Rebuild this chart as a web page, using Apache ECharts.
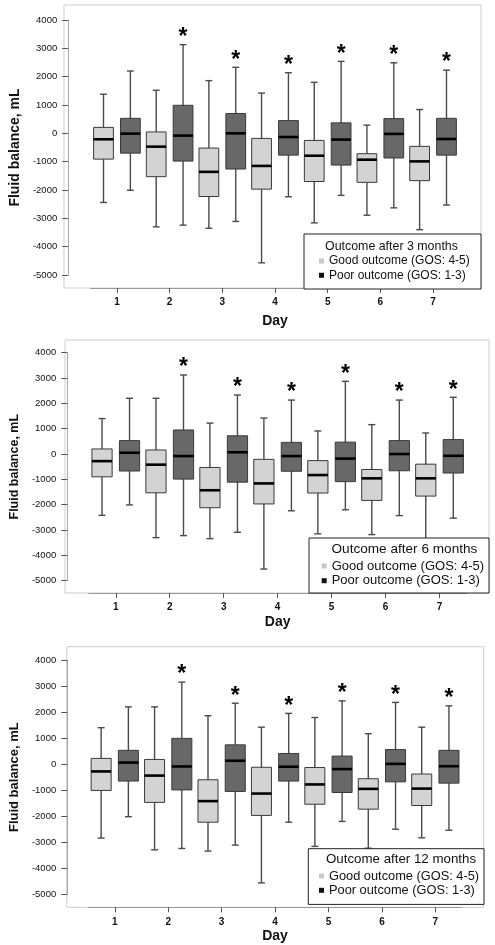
<!DOCTYPE html>
<html><head><meta charset="utf-8">
<script src="https://cdn.jsdelivr.net/npm/echarts@6/dist/echarts.min.js"></script>
<style>html,body{margin:0;padding:0;background:#fff}#c{width:495px;height:945px}</style>
</head><body><div id="c"></div>
<script>
// ---------- data ----------
const days = ['1', '2', '3', '4', '5', '6', '7'];
const yTicks = [-5000, -4000, -3000, -2000, -1000, 0, 1000, 2000, 3000, 4000];
const GOOD = 'Good outcome (GOS: 4-5)';
const POOR = 'Poor outcome (GOS: 1-3)';
const panelTitles = ['Outcome after 3 months', 'Outcome after 6 months', 'Outcome after 12 months'];
// each row: [lower whisker, Q1, median, Q3, upper whisker], one row per day
const good3m = [[-2440,-910,-210,210,1380],[-3300,-1530,-470,50,1520],[-3350,-2230,-1360,-520,1860],[-4570,-1970,-1150,-180,1420],[-3160,-1700,-790,-250,1800],[-2890,-1730,-930,-720,290],[-3400,-1670,-990,-460,840]];
const poor3m = [[-2010,-700,-10,530,2200],[-3240,-980,-80,990,3130],[-3110,-1260,0,700,2330],[-2240,-770,-130,450,2140],[-2190,-1120,-220,370,2540],[-2630,-870,-20,520,2490],[-2530,-770,-200,530,2230]];
const good6m = [[-2420,-900,-280,200,1400],[-3300,-1530,-420,160,2200],[-3340,-2120,-1430,-530,1220],[-4540,-1970,-1160,-210,1420],[-3150,-1540,-830,-260,910],[-3180,-1830,-960,-610,1160],[-3400,-1660,-960,-400,830]];
const poor6m = [[-2010,-670,50,530,2200],[-3220,-990,-80,950,3120],[-3090,-1110,70,720,2330],[-2240,-680,-80,460,2130],[-2200,-1090,-180,470,2870],[-2430,-660,0,530,2130],[-2530,-750,-70,570,2240]];
const good12m = [[-2840,-1010,-280,220,1400],[-3290,-1470,-440,180,2200],[-3340,-2230,-1420,-600,1860],[-4560,-1970,-1130,-120,1420],[-3160,-1540,-780,-130,1790],[-3230,-1730,-950,-560,1170],[-2830,-1590,-940,-380,1420]];
const poor12m = [[-2020,-650,60,530,2200],[-3240,-990,-90,990,3150],[-3110,-1050,130,740,2340],[-2230,-650,-100,410,1950],[-2200,-1090,-190,310,2430],[-2500,-680,10,560,2370],[-2540,-730,-80,530,2240]];
// significance marker (*) per day for poor-outcome group
const sig3m = [0,1,1,1,1,1,1];
const sig6m = [0,1,1,1,1,1,1];
const sig12m = [0,1,1,1,1,1,1];

const goodSets = [good3m, good6m, good12m];
const poorSets = [poor3m, poor6m, poor12m];
const sigSets = [sig3m, sig6m, sig12m];

// ---------- layout (pixels) ----------
const FONT = '"Liberation Sans", Arial, sans-serif';
const layouts = [
  {frame:{l:64,t:5,w:417,h:283}, data:{l:86.4,t:20,w:373,h:255}, nameSize:14, nameGap:42, dayGap:26,
   leg:{l:304,t:234,w:177,h:55,sq:319,fs:12,tfs:12.4,tl:325,td:12.7,i1:27,i2:41.3}},
  {frame:{l:65,t:340,w:424,h:253}, data:{l:86.6,t:352.7,w:379.9,h:228}, nameSize:12.5, nameGap:43, dayGap:22,
   leg:{l:309,t:538,w:180,h:55,sq:321.7,fs:13,tfs:13.6,tl:331.5,td:11.3,i1:28,i2:42.7}},
  {frame:{l:66.7,t:646.7,w:417,h:260.6}, data:{l:87.55,t:660,w:374.5,h:234.3}, nameSize:13, nameGap:45, dayGap:22,
   leg:{l:308.3,t:848.7,w:175.7,h:55.3,sq:319,fs:12.8,tfs:13.3,tl:326,td:10.6,i1:27.3,i2:41.3}}
];

const ctx = document.createElement('canvas').getContext('2d');
function textW(t, size, weight) { ctx.font = (weight || 'normal') + ' ' + size + 'px ' + FONT; return ctx.measureText(t).width; }

function boxRenderer(side, fill, withStar) {
  return function (params, api) {
    const i = api.value(0);
    const band = api.size([1, 0])[0];
    const cx = api.coord([i, 0])[0] + side * band * 0.255;
    const y = k => api.coord([i, api.value(k)])[1];
    const yLo = y(1), yQ1 = y(2), yMed = y(3), yQ3 = y(4), yHi = y(5);
    const bw = band * 0.375, cw = band * 0.13;
    const wl = {stroke: '#4a4a4a', lineWidth: 1.4};
    const children = [
      {type: 'line', shape: {x1: cx, y1: yHi, x2: cx, y2: yLo}, style: wl},
      {type: 'line', shape: {x1: cx - cw / 2, y1: yHi, x2: cx + cw / 2, y2: yHi}, style: wl},
      {type: 'line', shape: {x1: cx - cw / 2, y1: yLo, x2: cx + cw / 2, y2: yLo}, style: wl},
      {type: 'rect', shape: {x: cx - bw / 2, y: yQ3, width: bw, height: yQ1 - yQ3}, style: {fill: fill, stroke: '#3a3a3a', lineWidth: 1}},
      {type: 'line', shape: {x1: cx - bw / 2, y1: yMed, x2: cx + bw / 2, y2: yMed}, style: {stroke: '#000', lineWidth: 2.6}}
    ];
    if (withStar && api.value(6)) {
      children.push({type: 'text', x: cx, y: yHi - 7,
        style: {text: '*', fontSize: 23, fontWeight: 'bold', fontFamily: FONT, fill: '#000', align: 'center', verticalAlign: 'middle'}});
    }
    return {type: 'group', children: children};
  };
}

const option = {animation: false, backgroundColor: '#fff', grid: [], xAxis: [], yAxis: [], series: [], legend: [], title: []};

layouts.forEach((L, p) => {
  const f = L.frame, d = L.data;
  const gF = option.grid.length, gD = gF + 1;
  option.grid.push({left: f.l, top: f.t, width: f.w, height: f.h, show: true, borderColor: '#cdcdcd', borderWidth: 1, backgroundColor: '#fff', containLabel: false});
  option.grid.push({left: d.l, top: d.t, width: d.w, height: d.h, show: false, containLabel: false});
  option.xAxis.push({gridIndex: gF, type: 'value', show: false});
  option.yAxis.push({gridIndex: gF, type: 'value', show: false});
  option.xAxis.push({
    gridIndex: gD, type: 'category', data: days, boundaryGap: true, position: 'bottom',
    offset: (f.t + f.h) - (d.t + d.h),
    axisLine: {show: true, onZero: false, lineStyle: {color: '#9a9a9a', width: 1}},
    axisTick: {show: true, alignWithLabel: true, length: 5, lineStyle: {color: '#555'}},
    axisLabel: {fontSize: 10, fontWeight: 'bold', color: '#111', margin: 9.5, fontFamily: FONT},
    splitLine: {show: false},
    name: 'Day', nameLocation: 'middle', nameGap: L.dayGap,
    nameTextStyle: {fontSize: 14, fontWeight: 'bold', color: '#111', fontFamily: FONT}
  });
  option.yAxis.push({
    gridIndex: gD, type: 'value', min: yTicks[0], max: yTicks[yTicks.length - 1], interval: 1000,
    offset: d.l - f.l,
    axisLine: {show: true, onZero: false, lineStyle: {color: '#a8a8a8', width: 1}},
    axisTick: {show: true, length: 6, lineStyle: {color: '#555'}},
    axisLabel: {fontSize: 9.5, color: '#111', margin: 11, fontFamily: FONT, formatter: v => String(v)},
    splitLine: {show: false},
    name: 'Fluid balance, mL', nameLocation: 'middle', nameGap: L.nameGap,
    nameTextStyle: {fontSize: L.nameSize, fontWeight: 'bold', color: '#111', fontFamily: FONT}
  });
  const mk = (rows, sig) => rows.map((r, i) => [i].concat(r).concat([sig ? sig[i] : 0]));
  option.series.push({
    name: GOOD, type: 'custom', xAxisIndex: gD, yAxisIndex: gD,
    itemStyle: {color: '#d3d3d3'},
    renderItem: boxRenderer(-1, '#d3d3d3', false),
    encode: {x: 0, y: [1, 2, 3, 4, 5]},
    data: mk(goodSets[p], null)
  });
  option.series.push({
    name: POOR, type: 'custom', xAxisIndex: gD, yAxisIndex: gD,
    itemStyle: {color: '#686868'},
    renderItem: boxRenderer(1, '#686868', true),
    encode: {x: 0, y: [1, 2, 3, 4, 5]},
    data: mk(poorSets[p], sigSets[p])
  });
  // legend box
  const g = L.leg;
  const padT = g.i1 - g.fs / 2;
  const gap = (g.i2 - g.i1) - g.fs;
  const padB = g.h - (g.i2 + g.fs / 2);
  const padL = g.sq - g.l;
  const contentW = 5 + 5 + textW(GOOD, g.fs);
  const padR = Math.max(2, g.w - padL - contentW);
  option.legend.push({
    data: [{name: GOOD, itemStyle: {color: '#c9c9c9'}}, {name: POOR, itemStyle: {color: '#111'}}],
    orient: 'vertical', left: g.l, top: g.t, padding: [padT, padR, padB, padL],
    itemWidth: 5, itemHeight: 5, itemGap: gap, icon: 'rect', selectedMode: false,
    borderColor: '#222', borderWidth: 1, backgroundColor: '#fff', z: 5,
    textStyle: {fontSize: g.fs, color: '#111', fontFamily: FONT}
  });
  option.title.push({
    text: panelTitles[p], left: g.tl, top: g.t + g.td - g.tfs / 2, padding: 0, z: 8,
    textStyle: {fontSize: g.tfs, fontWeight: 'normal', color: '#111', fontFamily: FONT}
  });
});

const chart = echarts.init(document.getElementById('c'), null, {renderer: 'canvas'});
chart.setOption(option);
</script>
</body></html>
